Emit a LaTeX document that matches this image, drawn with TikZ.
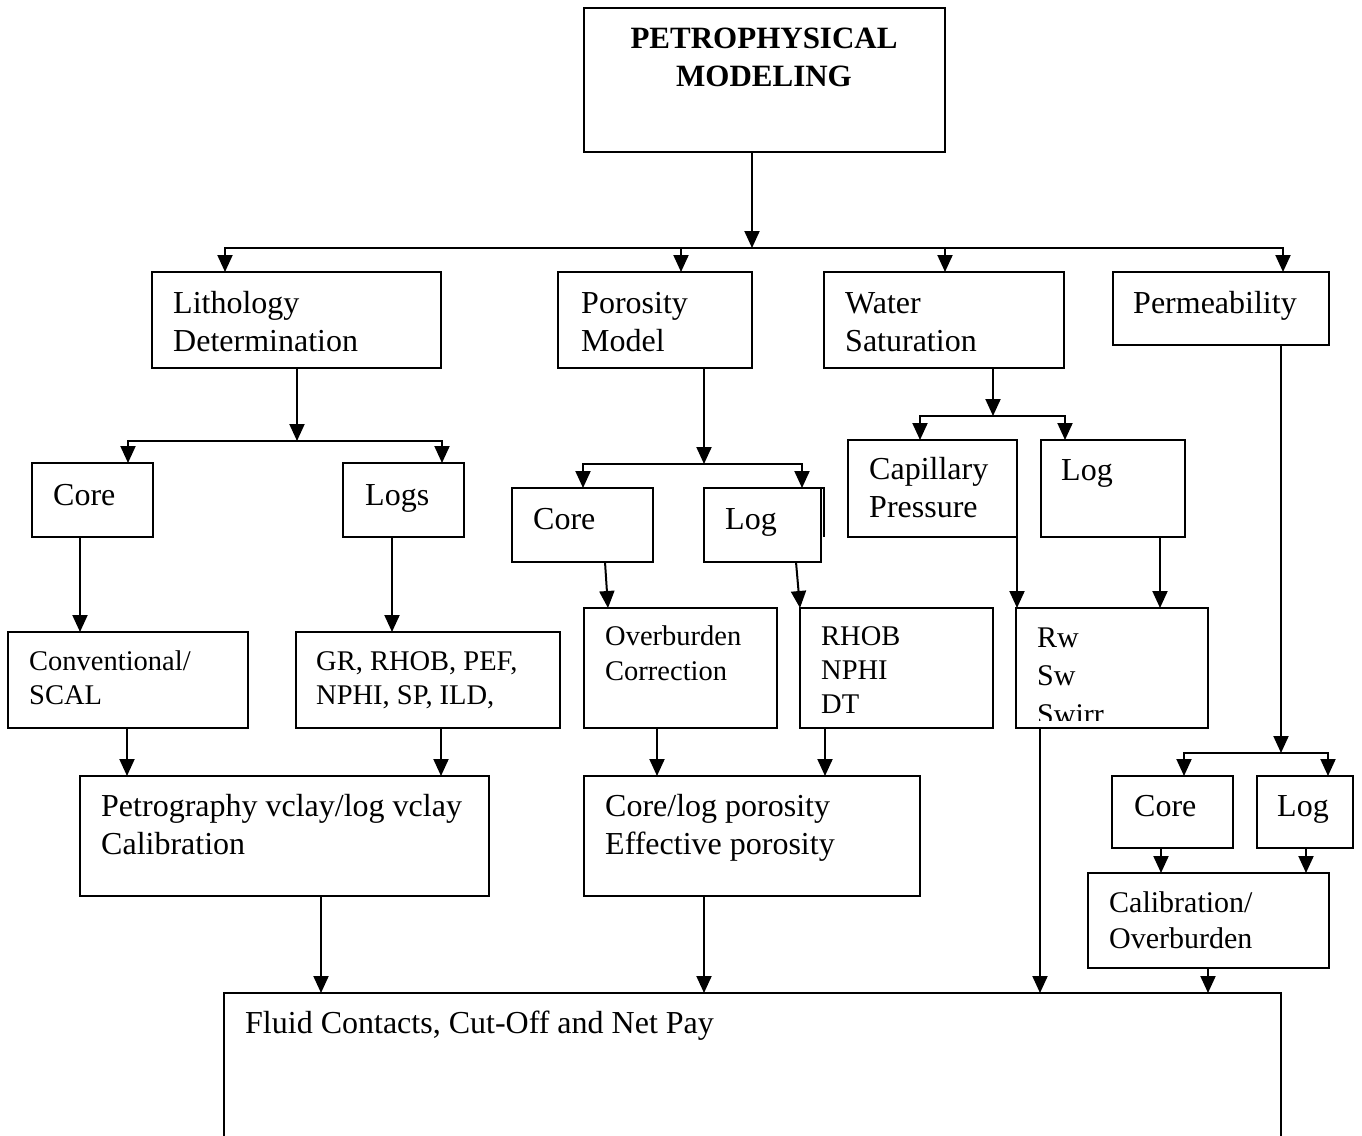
\documentclass[tikz,border=0pt]{standalone}
\usepackage{fontspec}
\setmainfont{Liberation Serif}
\usetikzlibrary{arrows.meta}
\newcommand\mybox[5]{\node[box, minimum width={(#4)-(#2)}, minimum height={(#5)-(#3)}] (#1) at (#2,#3) {};}
\newcommand\mytxt[6]{\node[txt, font=\fontsize{#4}{#5}\selectfont] (#1) at (#2,{#3-0.7*#5}) {\strut #6};}
\begin{document}
\begin{tikzpicture}[x=1pt,y=-1pt,
  box/.style={draw, line width=2pt, inner sep=0pt, outer sep=0pt, anchor=north west},
  txt/.style={anchor=north west, inner sep=0pt, align=left},
  arr/.style={line width=2pt, -{Triangle[length=17pt,width=15pt]}},
  ln/.style={line width=2pt}]
\clip (0,0) rectangle (1362,1135);
\fill[white] (0,0) rectangle (1362,1135);
% boxes
\mybox{top}{584}{8}{945}{152}
\mybox{lith}{152}{272}{441}{368}
\mybox{por}{558}{272}{752}{368}
\mybox{ws}{824}{272}{1064}{368}
\mybox{perm}{1113}{272}{1329}{345}
\mybox{core1}{32}{463}{153}{537}
\mybox{logs1}{343}{463}{464}{537}
\mybox{core2}{512}{488}{653}{562}
\mybox{log2}{704}{488}{821}{562}
\mybox{cap}{848}{440}{1017}{537}
\mybox{log3}{1041}{440}{1185}{537}
\mybox{conv}{8}{632}{248}{728}
\mybox{gr}{296}{632}{560}{728}
\mybox{ob}{584}{608}{777}{728}
\mybox{rhob}{800}{608}{993}{728}
\mybox{rw}{1016}{608}{1208}{728}
\mybox{petro}{80}{776}{489}{896}
\mybox{clp}{584}{776}{920}{896}
\mybox{core4}{1112}{776}{1233}{848}
\mybox{log4}{1257}{776}{1353}{848}
\mybox{calib}{1088}{873}{1329}{968}
\mybox{fluid}{224}{993}{1281}{1150}
\draw[ln] (log2.north east) -- ++(3,0) -- ++(0,49);
% texts
\node[anchor=north, inner sep=0pt, align=center, font=\bfseries\fontsize{31}{38}\selectfont] (toptxt) at (764,{48-26.6}) {\strut PETROPHYSICAL\\MODELING};
\mytxt{lithT}{173}{313}{32}{38}{Lithology\\Determination}
\mytxt{porT}{581}{313}{32}{38}{Porosity\\Model}
\mytxt{wsT}{845}{313}{32}{38}{Water\\Saturation}
\mytxt{permT}{1133}{313}{32}{38}{Permeability}
\mytxt{core1T}{53}{505}{32}{38}{Core}
\mytxt{logs1T}{365}{505}{32}{38}{Logs}
\mytxt{core2T}{533}{529}{32}{38}{Core}
\mytxt{log2T}{725}{529}{32}{38}{Log}
\mytxt{capT}{869}{479}{32}{38}{Capillary\\Pressure}
\mytxt{log3T}{1061}{480}{32}{38}{Log}
\mytxt{convT}{29}{670}{28.5}{34}{Conventional/\\SCAL}
\mytxt{grT}{316}{670}{28.5}{34}{GR, RHOB, PEF,\\NPHI, SP, ILD,}
\mytxt{obT}{605}{645}{28.5}{35}{Overburden\\Correction}
\mytxt{rhobT}{821}{645}{28.5}{34}{RHOB\\NPHI\\DT}
\begin{scope}
\clip (1017,609) rectangle (1207,720);
\mytxt{rwT}{1037}{647}{30}{38.5}{Rw\\Sw\\Swirr}
\end{scope}
\mytxt{petroT}{101}{816}{32}{38}{Petrography vclay/log vclay\\Calibration}
\mytxt{clpT}{605}{816}{32}{38}{Core/log porosity\\Effective porosity}
\mytxt{core4T}{1134}{816}{32}{38}{Core}
\mytxt{log4T}{1277}{816}{32}{38}{Log}
\mytxt{calibT}{1109}{912}{30}{36}{Calibration/\\Overburden}
\mytxt{fluidT}{245}{1033}{32}{38}{Fluid Contacts, Cut-Off and Net Pay}
% connectors
\coordinate (b0) at (752,248);
\draw[arr] (top.south -| b0) -- (b0);
\draw[arr] (b0) -| (lith.north -| 225,0);
\draw[arr] (b0) -| (por.north -| 681,0);
\draw[arr] (b0) -| (ws.north -| 945,0);
\draw[arr] (b0) -| (perm.north -| 1283,0);
\coordinate (b1) at (297,441);
\draw[arr] (lith.south -| b1) -- (b1);
\draw[arr] (b1) -| (core1.north -| 128,0);
\draw[arr] (b1) -| (logs1.north -| 442,0);
\coordinate (b2) at (704,464);
\draw[arr] (por.south -| b2) -- (b2);
\draw[arr] (b2) -| (core2.north -| 583,0);
\draw[arr] (b2) -| (log2.north -| 802,0);
\coordinate (b3) at (993,416);
\draw[arr] (ws.south -| b3) -- (b3);
\draw[arr] (b3) -| (cap.north -| 920,0);
\draw[arr] (b3) -| (log3.north -| 1065,0);
\coordinate (b4) at (1281,753);
\draw[arr] (perm.south -| b4) -- (b4);
\draw[arr] (b4) -| (core4.north -| 1184,0);
\draw[arr] (b4) -| (log4.north -| 1328,0);
\draw[arr] (core1.south -| 80,0) -- (conv.north -| 80,0);
\draw[arr] (logs1.south -| 392,0) -- (gr.north -| 392,0);
\draw[arr] (conv.south -| 127,0) -- (petro.north -| 127,0);
\draw[arr] (gr.south -| 441,0) -- (petro.north -| 441,0);
\draw[arr] (petro.south -| 321,0) -- (fluid.north -| 321,0);
\draw[arr] (core2.south -| 605,0) -- (ob.north -| 608,0);
\draw[arr] (log2.south -| 796,0) -- (rhob.north -| 800,0);
\draw[arr] (ob.south -| 657,0) -- (clp.north -| 657,0);
\draw[arr] (rhob.south -| 825,0) -- (clp.north -| 825,0);
\draw[arr] (clp.south -| 704,0) -- (fluid.north -| 704,0);
\draw[arr] (cap.south east) -- (rw.north -| cap.south east);
\draw[arr] (log3.south -| 1160,0) -- (rw.north -| 1160,0);
\draw[arr] (rw.south -| 1040,0) -- (fluid.north -| 1040,0);
\draw[arr] (core4.south -| 1161,0) -- (calib.north -| 1161,0);
\draw[arr] (log4.south -| 1306,0) -- (calib.north -| 1306,0);
\draw[arr] (calib.south -| 1208,0) -- (fluid.north -| 1208,0);
\end{tikzpicture}
\end{document}
